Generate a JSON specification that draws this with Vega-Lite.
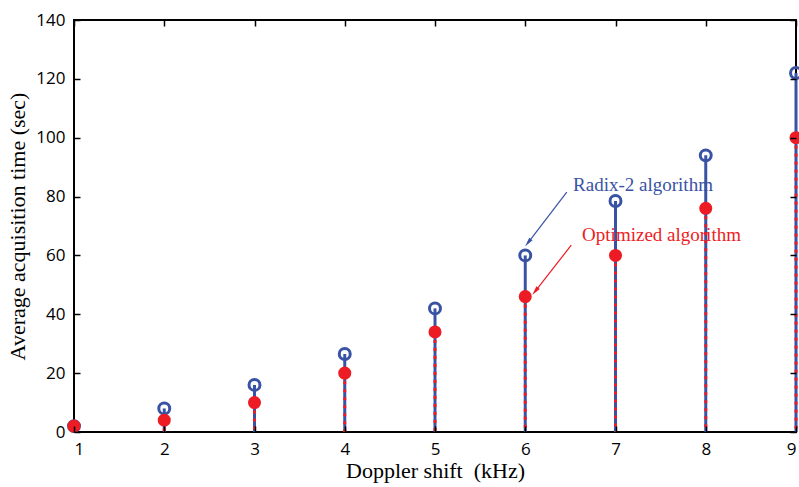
{
  "$schema": "https://vega.github.io/schema/vega-lite/v6.json",
  "autosize": {"type": "none"},
  "padding": {"left": 74, "top": 20, "right": 3, "bottom": 55},
  "width": 722,
  "height": 412,
  "background": "white",
  "config": {
    "view": {"stroke": "black", "strokeWidth": 2},
    "axis": {"grid": false}
  },
  "resolve": {"axis": {"x": "independent", "y": "independent"}},
  "datasets": {
    "acq": [
      {"doppler": 1, "radix": 2, "optimized": 2},
      {"doppler": 2, "radix": 8, "optimized": 4},
      {"doppler": 3, "radix": 16, "optimized": 10},
      {"doppler": 4, "radix": 26.5, "optimized": 20},
      {"doppler": 5, "radix": 42, "optimized": 34},
      {"doppler": 6, "radix": 60, "optimized": 46},
      {"doppler": 7, "radix": 78.5, "optimized": 60},
      {"doppler": 8, "radix": 94, "optimized": 76},
      {"doppler": 9, "radix": 122, "optimized": 100}
    ],
    "notes": [
      {"label": "Radix-2 algorithm", "tx": 6.53, "ty": 84, "ax": 6.46, "ay": 81.5, "hx": 6.03, "hy": 64.3, "series": "Radix-2"},
      {"label": "Optimized algorithm", "tx": 6.63, "ty": 67, "ax": 6.51, "ay": 63.5, "hx": 6.11, "hy": 47.8, "series": "Optimized"}
    ]
  },
  "layer": [
    {
      "data": {"name": "acq"},
      "mark": {"type": "rule", "color": "#3953A4", "strokeWidth": 3},
      "encoding": {
        "x": {
          "field": "doppler", "type": "quantitative",
          "scale": {"domain": [1, 9], "nice": false},
          "axis": {
            "title": "Doppler shift\u00a0 (kHz)", "orient": "bottom", "offset": -6, "domain": false,
            "values": [1, 2, 3, 4, 5, 6, 7, 8, 9], "format": "d",
            "ticks": true, "tickSize": 6, "tickColor": "black", "tickWidth": 1.5, "zindex": 1,
            "labelFont": "Open Sans", "labelFontSize": 17, "labelColor": "black", "labelPadding": 9,
            "titleFont": "Liberation Serif", "titleFontSize": 22, "titleFontWeight": "normal", "titleColor": "black", "titlePadding": 3
          }
        },
        "y": {
          "field": "radix", "type": "quantitative",
          "scale": {"domain": [0, 140], "nice": false},
          "axis": {
            "title": "Average acquisition time (sec)", "orient": "left", "offset": -6, "domain": false,
            "values": [0, 20, 40, 60, 80, 100, 120, 140],
            "ticks": true, "tickSize": 6, "tickColor": "black", "tickWidth": 1.5, "zindex": 1,
            "labelFont": "Open Sans", "labelFontSize": 17, "labelColor": "black", "labelPadding": 9,
            "titleFont": "Liberation Serif", "titleFontSize": 22, "titleFontWeight": "normal", "titleColor": "black", "titlePadding": 6
          }
        },
        "y2": {"datum": 0}
      }
    },
    {
      "data": {"name": "acq"},
      "mark": {"type": "rule", "color": "#ED1C24", "strokeWidth": 3, "strokeDash": [3, 5]},
      "encoding": {
        "x": {"field": "doppler", "type": "quantitative",
          "axis": {"orient": "top", "offset": -6, "title": null, "labels": false, "domain": false, "ticks": true, "zindex": 1,
            "values": [1, 2, 3, 4, 5, 6, 7, 8, 9], "tickSize": 6, "tickColor": "black", "tickWidth": 1.5}},
        "y": {"field": "optimized", "type": "quantitative",
          "axis": {"orient": "right", "offset": -6, "title": null, "labels": false, "domain": false, "ticks": true, "zindex": 1,
            "values": [0, 20, 40, 60, 80, 100, 120, 140], "tickSize": 6, "tickColor": "black", "tickWidth": 1.5}},
        "y2": {"datum": 0}
      }
    },
    {
      "data": {"name": "acq"},
      "mark": {"type": "point", "shape": "circle", "filled": false, "color": "#3953A4", "strokeWidth": 3, "size": 120, "opacity": 1},
      "encoding": {
        "x": {"field": "doppler", "type": "quantitative", "axis": null},
        "y": {"field": "radix", "type": "quantitative", "axis": null}
      }
    },
    {
      "data": {"name": "acq"},
      "mark": {"type": "point", "shape": "circle", "filled": true, "color": "#ED1C24", "size": 170, "opacity": 1},
      "encoding": {
        "x": {"field": "doppler", "type": "quantitative", "axis": null},
        "y": {"field": "optimized", "type": "quantitative", "axis": null}
      }
    },
    {
      "data": {"name": "notes"},
      "mark": {"type": "rule", "strokeWidth": 1.2},
      "encoding": {
        "x": {"field": "ax", "type": "quantitative", "axis": null},
        "y": {"field": "ay", "type": "quantitative", "axis": null},
        "x2": {"field": "hx"},
        "y2": {"field": "hy"},
        "color": {"field": "series", "type": "nominal", "scale": {"domain": ["Radix-2", "Optimized"], "range": ["#3953A4", "#ED1C24"]}, "legend": null}
      }
    },
    {
      "data": {"name": "notes"},
      "mark": {"type": "point", "filled": true, "opacity": 1, "size": 90, "angle": 218,
        "shape": "M0,-1 L0.45,1 L-0.45,1 Z"},
      "encoding": {
        "x": {"field": "hx", "type": "quantitative", "axis": null},
        "y": {"field": "hy", "type": "quantitative", "axis": null},
        "color": {"field": "series", "type": "nominal", "legend": null}
      }
    },
    {
      "data": {"name": "notes"},
      "mark": {"type": "text", "align": "left", "baseline": "middle", "font": "Liberation Serif", "fontSize": 19},
      "encoding": {
        "x": {"field": "tx", "type": "quantitative", "axis": null},
        "y": {"field": "ty", "type": "quantitative", "axis": null},
        "text": {"field": "label"},
        "color": {"field": "series", "type": "nominal", "legend": null}
      }
    }
  ]
}
